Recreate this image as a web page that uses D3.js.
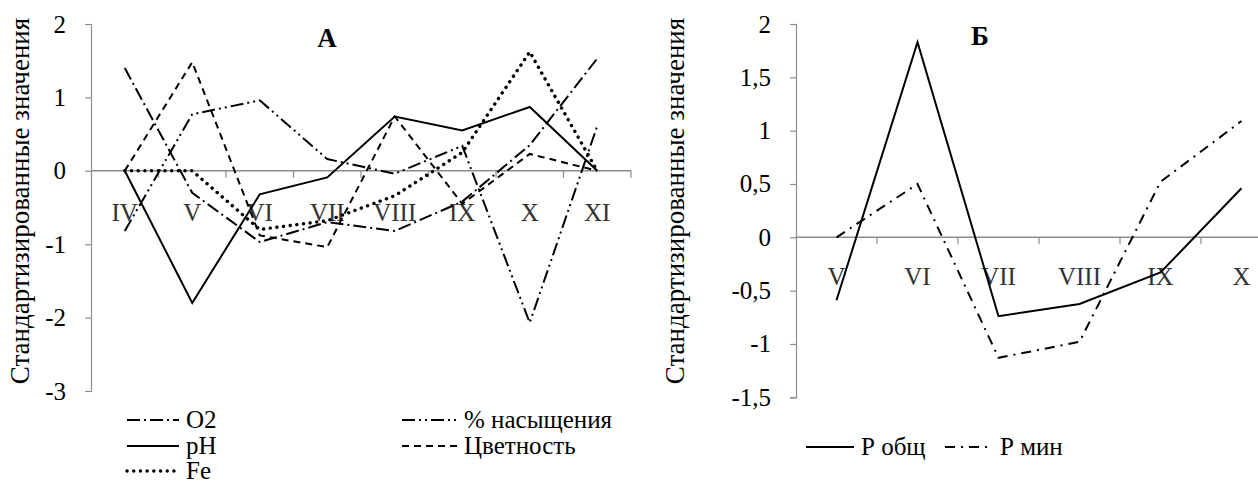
<!DOCTYPE html>
<html>
<head>
<meta charset="utf-8">
<script src="https://cdn.jsdelivr.net/npm/d3@7"></script>
<style>
  html, body { margin: 0; padding: 0; background: #fff; }
  svg { display: block; }
</style>
</head>
<body>
<svg id="chart" width="1258" height="483"></svg>
<script>
// Panel A: months and standardized values of each parameter
const monthsA = ["IV", "V", "VI", "VII", "VIII", "IX", "X", "XI"];
const o2 = [1.40, -0.30, -0.97, -0.70, -0.82, -0.42, 0.35, 1.53];
const saturation = [-0.82, 0.77, 0.96, 0.16, -0.04, 0.34, -2.07, 0.61];
const pH = [0, -1.80, -0.32, -0.09, 0.74, 0.55, 0.87, 0];
const colour = [0, 1.48, -0.88, -1.04, 0.74, -0.45, 0.23, 0];
const fe = [0, 0, -0.80, -0.68, -0.34, 0.25, 1.62, 0];
const ticksA = [2, 1, 0, -1, -2, -3];

// Panel Б: phosphorus
const monthsB = ["V", "VI", "VII", "VIII", "IX", "X"];
const pTotal = [-0.59, 1.83, -0.74, -0.625, -0.33, 0.46];
const pMin = [0, 0.50, -1.13, -0.98, 0.52, 1.09];
const ticksB = [2, 1.5, 1, 0.5, 0, -0.5, -1, -1.5];

const yTitle = "Стандартизированные значения";

const FONT = '"Liberation Serif", "Times New Roman", Times, serif';
const svg = d3.select("#chart");
const axisColor = "#8c8c8c";
const fmt = v => String(v).replace(".", ",");

function serif(sel, size) {
  return sel.attr("font-family", FONT)
    .style("font-family", FONT)
    .style("font-size", size + "px");
}

const styles = {
  o2: { dash: "13,4,2,4", width: 2 },
  sat: { dash: "13,4,2,4,2,4", width: 2 },
  pH: { dash: null, width: 2 },
  colour: { dash: "7,5", width: 2 },
  fe: { dash: "0.1,6.6", width: 3.4, cap: "round" },
  pTotal: { dash: null, width: 2 },
  pMin: { dash: "10,6,2,6", width: 2 }
};

function panel(cfg) {
  const g = svg.append("g");
  const x = d3.scaleBand().domain(cfg.months).range(cfg.xRange);
  const y = d3.scaleLinear().domain(cfg.yDomain).range(cfg.yRange);
  const cx = d => x(d) + x.bandwidth() / 2;

  // vertical axis with ticks on the left
  const ax = g.append("g")
    .attr("transform", `translate(${cfg.xRange[0]},0)`)
    .call(d3.axisLeft(y).tickValues(cfg.ticks).tickSize(6).tickPadding(19).tickFormat(fmt));
  ax.attr("font-family", FONT);
  ax.select(".domain").attr("stroke", axisColor).attr("stroke-width", 1.2);
  ax.selectAll(".tick line").attr("stroke", axisColor).attr("stroke-width", 1.2);
  serif(ax.selectAll(".tick text"), 25).attr("fill", "#000");

  // horizontal axis along zero with ticks between categories
  const y0 = y(0);
  g.append("line")
    .attr("x1", cfg.xRange[0]).attr("x2", Math.min(cfg.xRange[1], 1258))
    .attr("y1", y0).attr("y2", y0)
    .attr("stroke", axisColor).attr("stroke-width", 1.5);
  const bounds = cfg.months.slice(1).map(d => x(d)).concat([cfg.xRange[1]]);
  g.selectAll(".xtick").data(bounds.filter(b => b < 1258)).join("line")
    .attr("x1", d => d).attr("x2", d => d)
    .attr("y1", y0).attr("y2", y0 + 7)
    .attr("stroke", axisColor).attr("stroke-width", 1.2);
  serif(g.selectAll(".xlabel").data(cfg.months).join("text"), 25)
    .attr("x", d => cx(d)).attr("y", y0 + cfg.labelOffset)
    .attr("text-anchor", "middle")
    .attr("fill", "#333")
    .text(d => d);

  // series
  const line = d3.line().x((v, i) => cx(cfg.months[i])).y(v => y(v));
  cfg.series.forEach(s => {
    const st = styles[s.key];
    g.append("path")
      .attr("d", line(s.values))
      .attr("fill", "none")
      .attr("stroke", "#000")
      .attr("stroke-width", st.width)
      .attr("stroke-dasharray", st.dash)
      .attr("stroke-linecap", st.cap || "butt")
      .attr("stroke-linejoin", "miter");
  });

  // panel letter
  serif(g.append("text"), 27)
    .attr("x", cfg.letterX).attr("y", cfg.letterY)
    .attr("text-anchor", "middle")
    .style("font-weight", "bold")
    .text(cfg.letter);

  // y-axis title
  serif(g.append("text"), 27)
    .attr("transform", `translate(${cfg.titleX},${cfg.titleY}) rotate(-90)`)
    .attr("text-anchor", "middle")
    .text(yTitle);

  // legend
  cfg.legend.forEach(it => {
    const st = styles[it.key];
    g.append("line")
      .attr("x1", it.x).attr("x2", it.x + it.len)
      .attr("y1", it.y).attr("y2", it.y)
      .attr("stroke", "#000").attr("stroke-width", st.width)
      .attr("stroke-dasharray", st.dash)
      .attr("stroke-linecap", st.cap || "butt");
    serif(g.append("text"), 25)
      .attr("x", it.x + it.len + 7).attr("y", it.y + 8)
      .text(it.label);
  });
}

panel({
  months: monthsA,
  xRange: [91, 631],
  yDomain: [-3, 2],
  yRange: [391, 24],
  ticks: ticksA,
  labelOffset: 50,
  letter: "А", letterX: 327, letterY: 47,
  titleX: 29, titleY: 201,
  series: [
    { key: "o2", values: o2 },
    { key: "sat", values: saturation },
    { key: "pH", values: pH },
    { key: "colour", values: colour },
    { key: "fe", values: fe }
  ],
  legend: [
    { key: "o2", label: "O2", x: 127, y: 420, len: 52 },
    { key: "pH", label: "pH", x: 127, y: 446, len: 52 },
    { key: "fe", label: "Fe", x: 127, y: 471, len: 52 },
    { key: "sat", label: "% насыщения", x: 402, y: 420, len: 55 },
    { key: "colour", label: "Цветность", x: 402, y: 446, len: 55 }
  ]
});

panel({
  months: monthsB,
  xRange: [796, 1282],
  yDomain: [-1.5, 2],
  yRange: [397.3, 24],
  ticks: ticksB,
  labelOffset: 48,
  letter: "Б", letterX: 980, letterY: 45,
  titleX: 684, titleY: 201,
  series: [
    { key: "pTotal", values: pTotal },
    { key: "pMin", values: pMin }
  ],
  legend: [
    { key: "pTotal", label: "Р общ", x: 806, y: 447, len: 48 },
    { key: "pMin", label: "Р мин", x: 945, y: 447, len: 48 }
  ]
});
</script>
</body>
</html>
